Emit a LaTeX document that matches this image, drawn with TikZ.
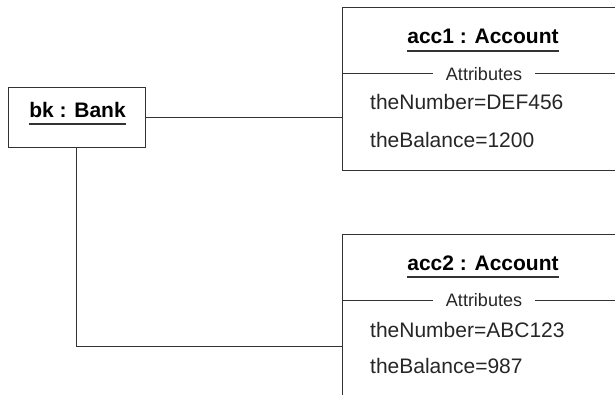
\documentclass[tikz,border=0pt]{standalone}
\usepackage{fontspec}
\setmainfont{Liberation Sans}
\begin{document}
\begin{tikzpicture}[x=1pt,y=-1pt,
  line/.style={draw=black!80, line width=1pt},
  uline/.style={draw=black!80, line width=1.3pt},
  objbox/.style={line, inner sep=0pt},
  ttl/.style={font=\fontsize{21}{25}\selectfont\bfseries, inner sep=0pt, anchor=base},
  attr/.style={font=\fontsize{21}{25}\selectfont, inner sep=0pt, anchor=base west, text=black!85},
  sec/.style={font=\fontsize{18}{22}\selectfont, fill=white, inner xsep=13pt, inner ysep=1pt, text=black!85},
]
\useasboundingbox (0,0) rectangle (615,395);
\clip (0,0) rectangle (615,395);

% object boxes
\node[objbox, minimum width=137pt, minimum height=60pt] (bk) at (76.5,118) {};
\node[objbox, anchor=north west, minimum width=283pt, minimum height=163pt] (acc1) at (342,7) {};
\node[objbox, anchor=north west, minimum width=283pt, minimum height=200pt] (acc2) at (342,234) {};

% object names, underlined
\node[ttl] (bkT) at (77.5,118) {bk : Bank};
\draw[uline] ([yshift=-6pt]bkT.base west) -- ([yshift=-6pt]bkT.base east);
\node[ttl] (acc1T) at (483,44) {acc1 : Account};
\draw[uline] ([yshift=-7pt]acc1T.base west) -- ([yshift=-7pt]acc1T.base east);
\node[ttl] (acc2T) at (483,270) {acc2 : Account};
\draw[uline] ([yshift=-7pt]acc2T.base west) -- ([yshift=-7pt]acc2T.base east);

% attribute compartments
\coordinate (d1) at (0,74);
\coordinate (d2) at (0,300);
\draw[line] (acc1.west |- d1) -- (acc1.east |- d1);
\draw[line] (acc2.west |- d2) -- (acc2.east |- d2);
\node[sec] (sec1) at (484,74) {Attributes};
\node[sec] (sec2) at (484,300) {Attributes};

\node[attr] (a1n) at (370,110) {theNumber=DEF456};
\node[attr] (a1b) at (370,148) {theBalance=1200};
\node[attr] (a2n) at (370,337) {theNumber=ABC123};
\node[attr] (a2b) at (370,373) {theBalance=987};

% links
\coordinate (in1) at (acc1.west |- bk.east);
\coordinate (in2) at (342,346);
\draw[line] (bk.east) -- (in1);
\draw[line] (bk.south) |- (in2);
\end{tikzpicture}
\end{document}
